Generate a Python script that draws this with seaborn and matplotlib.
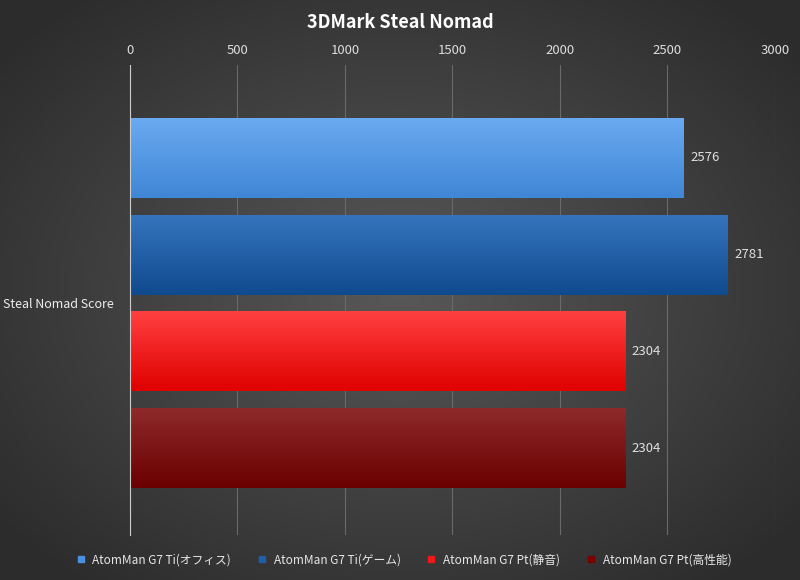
import numpy as np
import pandas as pd
import matplotlib
matplotlib.use("Agg")
import matplotlib.pyplot as plt
import matplotlib.colors as mcolors
import seaborn as sns

title = "3DMark Steal Nomad"
category = ["Steal Nomad Score"]
series = ["AtomMan G7 Ti(オフィス)", "AtomMan G7 Ti(ゲーム)", "AtomMan G7 Pt(静音)", "AtomMan G7 Pt(高性能)"]
values = [2576, 2781, 2304, 2304]
top_colors = ["#6aaaf0", "#3574bd", "#ff4040", "#8e2a2a"]
bot_colors = ["#3f86d6", "#104a8e", "#e00000", "#6a0000"]
legend_colors = ["#4a90e0", "#1f5ea8", "#f01818", "#7a0000"]
xticks = [0, 500, 1000, 1500, 2000, 2500, 3000]

sns.set_theme(style="dark")
plt.rcParams['font.family'] = ['Noto Sans CJK JP', 'DejaVu Sans']

df = pd.DataFrame({"cat": category * len(series), "series": series, "value": values})

fig = plt.figure(figsize=(8, 5.8), dpi=100)
bg = fig.add_axes([0, 0, 1, 1], zorder=-10)
yy, xx = np.mgrid[-1:1:300j, -1:1:400j]
r = np.sqrt(xx**2 + yy**2)
bgcmap = mcolors.LinearSegmentedColormap.from_list("bg", ["#585858", "#2c2c2c"])
bg.imshow(np.clip(r / 1.3, 0, 1), cmap=bgcmap, aspect="auto", extent=[0, 1, 0, 1], vmin=0, vmax=1)
bg.axis("off")

ax = fig.add_axes([0.1625, 0.078, 0.806, 0.81])
ax.set_facecolor("none")
sns.barplot(data=df, x="value", y="cat", hue="series", orient="h", palette=legend_colors,
            gap=0.175, ax=ax, legend=False)
ylim = (0.478, -0.491)

bars = [p for p in ax.patches if p.get_width() > 0]
for i, p in enumerate(bars):
    x0, y0, w, h = p.get_x(), p.get_y(), p.get_width(), p.get_height()
    cmap = mcolors.LinearSegmentedColormap.from_list("g%d" % i, [top_colors[i], bot_colors[i]])
    grad = np.linspace(0, 1, 100).reshape(-1, 1)
    im = ax.imshow(grad, cmap=cmap, aspect="auto", extent=[x0, x0 + w, y0 + h, y0], zorder=3)
    im.set_clip_path(p)
    p.set_alpha(0)
    ax.text(x0 + w + 30, y0 + h / 2, f"{values[i]}", va="center", ha="left", color="#e0e0e0", fontsize=9.5)
ax.set_xlim(0, 3000)
ax.set_ylim(*ylim)

ax.xaxis.tick_top()
ax.set_xticks(xticks)
ax.tick_params(axis="x", colors="#dddddd", labelsize=9.5, length=0, pad=6)
ax.tick_params(axis="y", colors="#eeeeee", labelsize=9, length=0, pad=12)
ax.set_xlabel("")
ax.set_ylabel("")
ax.grid(axis="x", color="#6a6a6a", linewidth=0.8)
ax.grid(axis="y", visible=False)
for s in ["top", "right", "bottom"]:
    ax.spines[s].set_visible(False)
ax.spines["left"].set_color("#cccccc")
ax.spines["left"].set_linewidth(0.8)
ax.spines["left"].set_zorder(5)

fig.text(0.5, 0.962, title, ha="center", va="center", color="white", fontsize=13, fontweight="bold")

from matplotlib.lines import Line2D
handles = [Line2D([], [], marker="s", linestyle="", color=c, markersize=5) for c in legend_colors]
leg = fig.legend(handles, series, loc="center", bbox_to_anchor=(0.5, 0.035), ncol=4, frameon=False,
                 fontsize=8.5, handletextpad=0.0, columnspacing=1.6, labelcolor="#e8e8e8")

fig.savefig("out.png", dpi=100)
